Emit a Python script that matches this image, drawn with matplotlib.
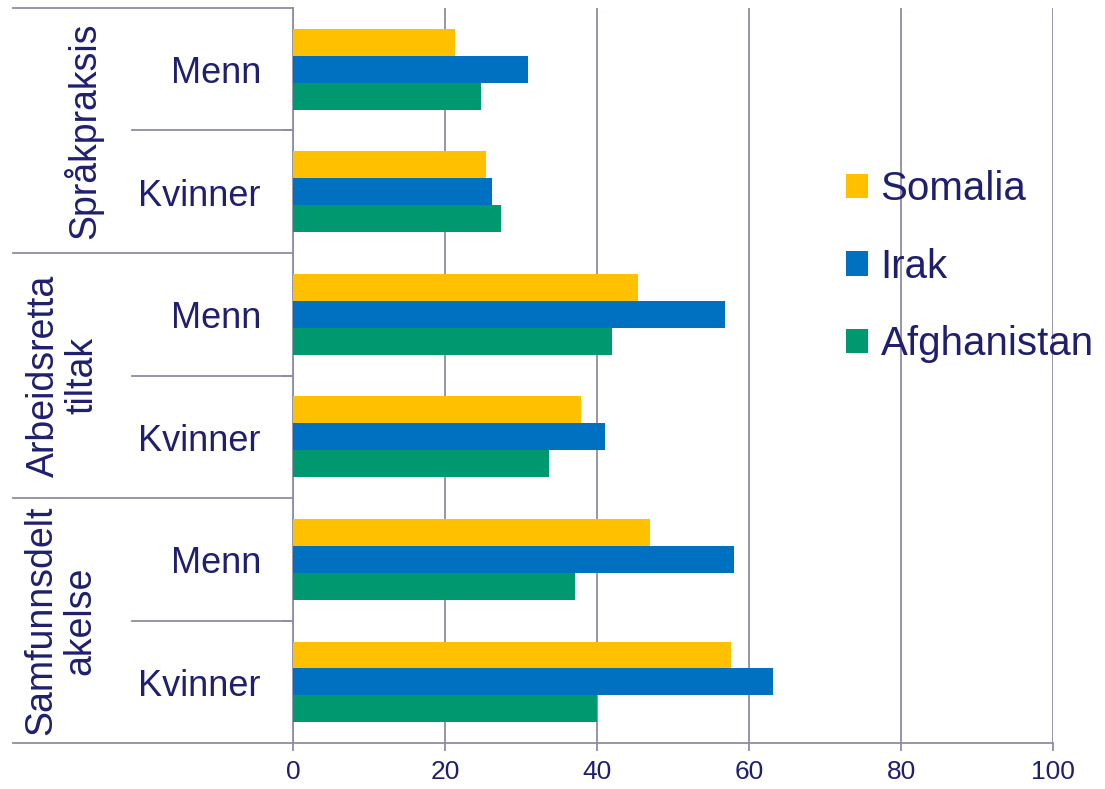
import numpy as np
import matplotlib
matplotlib.use("Agg")
import matplotlib.pyplot as plt
import matplotlib.transforms as mtransforms

plt.rcParams['font.family'] = ['Liberation Sans', 'DejaVu Sans']

# data
grupper = ['Språkpraksis', 'Arbeidsretta\ntiltak', 'Samfunnsdelt\nakelse']
kjonn = ['Menn', 'Kvinner']
land = ['Somalia', 'Irak', 'Afghanistan']
farger = ['#FFC000', '#0070C0', '#00996F']

# rekkefølge: Språk Menn, Språk Kvinner, Arb Menn, Arb Kvinner, Samf Menn, Samf Kvinner
somalia = [21.3, 25.4, 45.4, 37.9, 47.0, 57.6]
irak = [30.9, 26.2, 56.8, 41.1, 58.0, 63.2]
afghanistan = [24.7, 27.4, 42.0, 33.7, 37.1, 40.0]
verdier = [somalia, irak, afghanistan]

tekst = '#1F1F6E'
linje = '#8E8CA6'

fig = plt.figure(figsize=(11.05, 7.89), dpi=100)
ax = fig.add_axes([0.265, 0.058, 0.688, 0.932])

y = np.arange(6)
h = 0.22
for i, (navn, v, c) in enumerate(zip(land, verdier, farger)):
    ax.barh(y + (i - 1) * h, v, height=h, color=c, label=navn, zorder=3)

ax.set_xlim(0, 100)
ax.set_ylim(5.5, -0.5)
ax.set_xticks([0, 20, 40, 60, 80, 100])
ax.set_yticks([])
ax.grid(axis='x', color=linje, linewidth=1.3, zorder=0)
ax.tick_params(axis='x', colors=linje, labelcolor=tekst, labelsize=19,
               length=6, width=1.3, pad=6)
for s in ['top', 'right']:
    ax.spines[s].set_visible(False)
ax.spines['left'].set_color(linje)
ax.spines['bottom'].set_color(linje)
ax.spines['left'].set_linewidth(1.3)
ax.spines['bottom'].set_linewidth(1.3)

trans = mtransforms.blended_transform_factory(ax.transAxes, ax.transData)

# linjer til venstre
for yy in [-0.5, 1.5, 3.5, 5.5]:
    ax.plot([-0.368, 0], [yy, yy], color=linje, lw=1.3, transform=trans, clip_on=False)
for yy in [0.5, 2.5, 4.5]:
    ax.plot([-0.212, 0], [yy, yy], color=linje, lw=1.3, transform=trans, clip_on=False)
    ax.plot([-0.013, 0], [yy, yy], color=linje, lw=1.3, transform=trans, clip_on=False)

# kategoritekster
for i in range(6):
    ax.text(-0.042, i + 0.035, kjonn[i % 2], transform=trans, ha='right', va='center',
            fontsize=26, color=tekst)

gx = [-0.276, -0.302, -0.305]
for g, navn in enumerate(grupper):
    ax.text(gx[g], 2 * g + 0.5, navn, transform=trans, rotation=90,
            ha='center', va='center', multialignment='center',
            fontsize=27, color=tekst, linespacing=1.1)

leg = ax.legend(loc='upper left', bbox_to_anchor=(0.728, 0.779), frameon=False,
                fontsize=29, handlelength=0.55, handleheight=0.55,
                handletextpad=0.3, labelspacing=0.98, labelcolor=tekst,
                borderaxespad=0, borderpad=0)

fig.savefig('out.png', dpi=100)
